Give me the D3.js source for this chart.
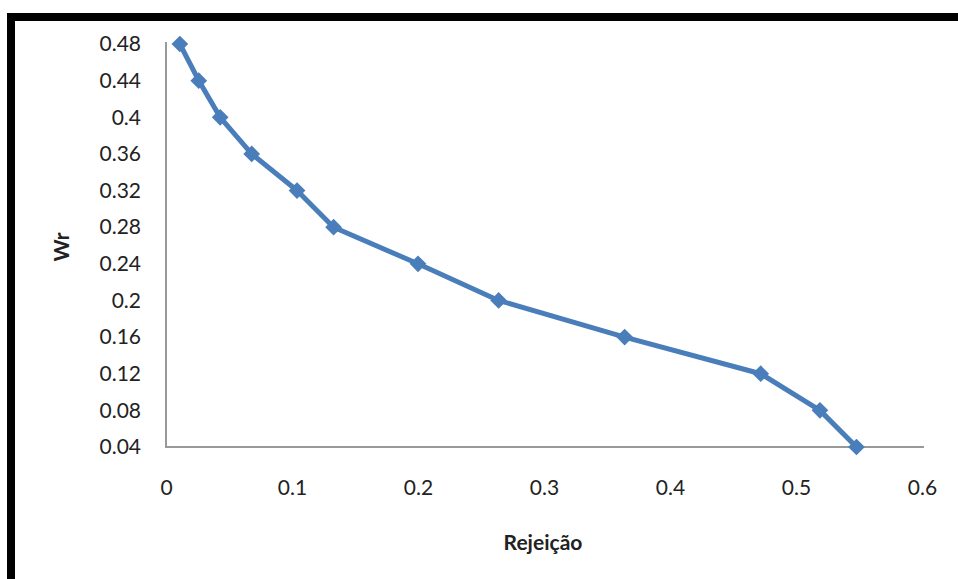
<!DOCTYPE html>
<meta charset="UTF-8">
<style>
  body { margin: 0; background-color: #fff; }
  svg { display: block; }
  .tick text { font-family: Lato, "Open Sans", sans-serif; font-size: 21px; fill: #222; }
  .title { font-family: Lato, "Open Sans", sans-serif; font-size: 21px; font-weight: bold; fill: #222; }
</style>
<svg width="958" height="579"></svg>
<script src="https://d3js.org/d3.v7.min.js"></script>
<script>
  const rejeicao = [0.011, 0.026, 0.043, 0.068, 0.104, 0.133, 0.2, 0.264, 0.364, 0.472, 0.519, 0.548];
  const wr = [0.48, 0.44, 0.40, 0.36, 0.32, 0.28, 0.24, 0.20, 0.16, 0.12, 0.08, 0.04];
  const xTicks = [0, 0.1, 0.2, 0.3, 0.4, 0.5, 0.6];
  const yTicks = [0.04, 0.08, 0.12, 0.16, 0.2, 0.24, 0.28, 0.32, 0.36, 0.4, 0.44, 0.48];

  const LEFT = 166, RIGHT = 922, TOP = 44, BOTTOM = 447;

  const svg = d3.select('svg');

  // frame (runs off the right and bottom edges like the screenshot)
  svg.append('rect')
    .attr('x', 11).attr('y', 17)
    .attr('width', 1000).attr('height', 700)
    .attr('fill', 'none').attr('stroke', '#000').attr('stroke-width', 8);

  const x = d3.scaleLinear().domain([0, 0.6]).range([LEFT, RIGHT]);
  const y = d3.scaleLinear().domain([0.04, 0.48]).range([BOTTOM, TOP]);

  const yAxis = svg.append('g')
    .attr('transform', `translate(${LEFT},0)`)
    .call(d3.axisLeft(y).tickValues(yTicks).tickFormat(d => String(+d.toFixed(2)))
      .tickSize(0).tickSizeOuter(0).tickPadding(25));
  yAxis.select('.domain').attr('stroke', '#999').attr('stroke-width', 2)
    .attr('d', `M0,${TOP - 2}V${BOTTOM}`);

  const xAxis = svg.append('g')
    .attr('transform', `translate(0,${BOTTOM})`)
    .call(d3.axisBottom(x).tickValues(xTicks).tickFormat(d => String(+d.toFixed(1)))
      .tickSize(0).tickSizeOuter(0).tickPadding(33));
  xAxis.select('.domain').attr('stroke', '#999').attr('stroke-width', 2)
    .attr('d', `M${LEFT - 1},0H${RIGHT + 2}`);

  svg.append('text').attr('class', 'title')
    .attr('text-anchor', 'middle')
    .attr('transform', 'translate(69,247) rotate(-90)')
    .text('Wr');

  svg.append('text').attr('class', 'title')
    .attr('text-anchor', 'middle')
    .attr('x', 543).attr('y', 550)
    .text('Rejeição');

  const points = rejeicao.map((r, i) => ({ x: r, y: wr[i] }));

  svg.append('path')
    .datum(points)
    .attr('fill', 'none')
    .attr('stroke', '#4a7ebb')
    .attr('stroke-width', 5)
    .attr('stroke-linejoin', 'round')
    .attr('d', d3.line().x(d => x(d.x)).y(d => y(d.y)));

  svg.selectAll('path.marker')
    .data(points)
    .enter().append('path').classed('marker', true)
      .attr('d', d3.symbol(d3.symbolSquare, 140))
      .attr('transform', d => `translate(${x(d.x)},${y(d.y)}) rotate(45)`)
      .attr('fill', '#4a7ebb');
</script>
